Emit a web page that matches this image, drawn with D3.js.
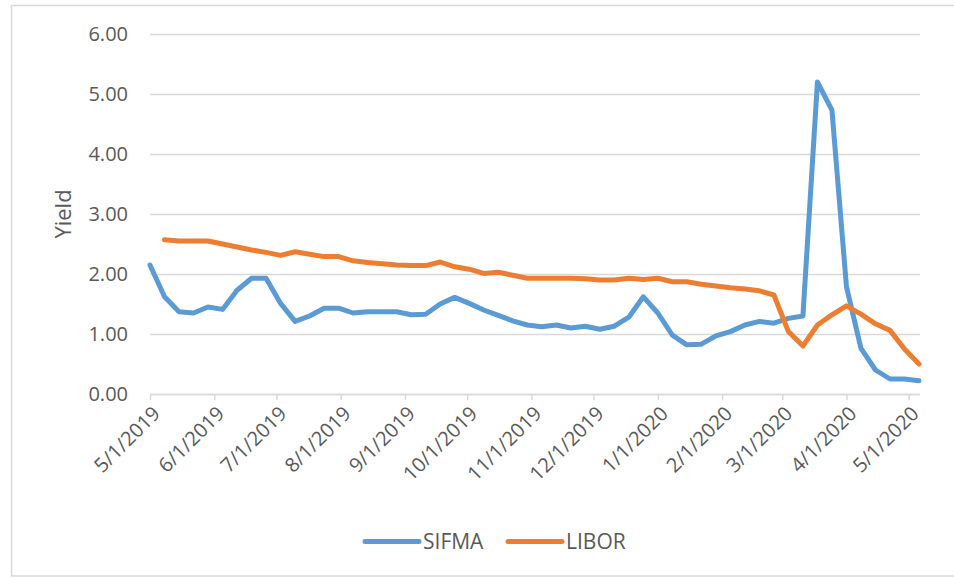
<!DOCTYPE html>
<html>
<head>
<meta charset="utf-8">
<script src="https://cdn.jsdelivr.net/npm/d3@7"></script>
<style>
  html, body { margin: 0; padding: 0; background: #ffffff; }
  svg { display: block; }
  text { font-family: "Open Sans", sans-serif; fill: #595959; }
</style>
</head>
<body>
<svg id="chart" width="954" height="577"></svg>
<script>
// ---- data ----
const dates = [
  "2019-05-01","2019-05-08","2019-05-15","2019-05-22","2019-05-29",
  "2019-06-05","2019-06-12","2019-06-19","2019-06-26",
  "2019-07-03","2019-07-10","2019-07-17","2019-07-24","2019-07-31",
  "2019-08-07","2019-08-14","2019-08-21","2019-08-28",
  "2019-09-04","2019-09-11","2019-09-18","2019-09-25",
  "2019-10-02","2019-10-09","2019-10-16","2019-10-23","2019-10-30",
  "2019-11-06","2019-11-13","2019-11-20","2019-11-27",
  "2019-12-04","2019-12-11","2019-12-18","2019-12-25",
  "2020-01-01","2020-01-08","2020-01-15","2020-01-22","2020-01-29",
  "2020-02-05","2020-02-12","2020-02-19","2020-02-26",
  "2020-03-04","2020-03-11","2020-03-18","2020-03-25",
  "2020-04-01","2020-04-08","2020-04-15","2020-04-22","2020-04-29",
  "2020-05-06"
];
const sifma = [
  2.15,1.62,1.37,1.35,1.45,
  1.41,1.73,1.93,1.93,
  1.51,1.21,1.30,1.43,1.43,
  1.35,1.37,1.37,1.37,
  1.32,1.33,1.50,1.61,
  1.51,1.40,1.31,1.22,1.15,
  1.12,1.15,1.10,1.13,
  1.08,1.13,1.28,1.62,
  1.35,0.98,0.82,0.83,0.97,
  1.04,1.15,1.21,1.18,
  1.26,1.30,5.20,4.73,
  1.79,0.76,0.40,0.25,0.25,
  0.22
];
const libor = [
  null,2.57,2.55,2.55,2.55,
  2.50,2.45,2.40,2.36,
  2.31,2.37,2.33,2.29,2.29,
  2.22,2.19,2.17,2.15,
  2.14,2.14,2.20,2.12,
  2.08,2.01,2.03,1.98,1.93,
  1.93,1.93,1.93,1.92,
  1.90,1.90,1.93,1.91,
  1.93,1.87,1.87,1.83,1.80,
  1.77,1.75,1.72,1.65,
  1.04,0.80,1.15,1.32,
  1.47,1.33,1.17,1.06,0.75,
  0.50
];
const xTickLabels = [
  "5/1/2019","6/1/2019","7/1/2019","8/1/2019","9/1/2019","10/1/2019",
  "11/1/2019","12/1/2019","1/1/2020","2/1/2020","3/1/2020","4/1/2020","5/1/2020"
];
const yTicks = [0, 1, 2, 3, 4, 5, 6];
const seriesNames = ["SIFMA", "LIBOR"];
const seriesColors = ["#5b9bd5", "#ed7d31"];

// ---- drawing ----
const parse = d3.timeParse("%Y-%m-%d");
const parseTick = d3.timeParse("%m/%d/%Y");
const dateObjs = dates.map(parse);
const tickDates = xTickLabels.map(parseTick);

const svg = d3.select("#chart");

// outer chart border
svg.append("rect")
  .attr("x", 11.5).attr("y", 5.5)
  .attr("width", 960).attr("height", 570.5)
  .attr("fill", "#ffffff")
  .attr("stroke", "#d9d9d9").attr("stroke-width", 1.5);

const plotLeft = 150, plotRight = 920, plotTop = 34, plotBottom = 394;

const x = d3.scaleTime()
  .domain([dateObjs[0], dateObjs[dateObjs.length - 1]])
  .range([plotLeft, 919]);
const y = d3.scaleLinear().domain([0, 6]).range([plotBottom, plotTop]);

// gridlines + y labels
const yAxis = d3.axisLeft(y)
  .tickValues(yTicks)
  .tickFormat(d3.format(".2f"))
  .tickSize(-(plotRight - plotLeft))
  .tickPadding(22);
const gy = svg.append("g")
  .attr("transform", `translate(${plotLeft},0)`)
  .call(yAxis);
gy.select(".domain").remove();
gy.selectAll(".tick line").attr("stroke", "#d9d9d9").attr("stroke-width", 1.5);
gy.selectAll(".tick text")
  .attr("font-size", 20)
  .style("font-family", "'Open Sans', sans-serif")
  .attr("fill", "#595959");

// x axis
const xAxis = d3.axisBottom(x)
  .tickValues(tickDates)
  .tickFormat((d, i) => xTickLabels[i])
  .tickSizeOuter(0)
  .tickSize(6);
const gx = svg.append("g")
  .attr("transform", `translate(0,${plotBottom})`)
  .call(xAxis);
gx.select(".domain")
  .attr("d", `M${plotLeft},0.5H${plotRight}`)
  .attr("stroke", "#d9d9d9").attr("stroke-width", 1.5);
gx.selectAll(".tick line").attr("stroke", "#d9d9d9").attr("stroke-width", 1.5);
gx.selectAll(".tick text")
  .attr("font-size", 20)
  .style("font-family", "'Open Sans', sans-serif")
  .attr("fill", "#595959")
  .attr("text-anchor", "end")
  .attr("x", 0).attr("y", 0)
  .attr("dy", "0.35em")
  .attr("transform", "translate(6,16) rotate(-45)");

// y title
svg.append("text")
  .attr("transform", "translate(63,214) rotate(-90)")
  .attr("text-anchor", "middle")
  .attr("dy", "0.35em")
  .attr("font-size", 22)
  .text("Yield");

// lines
const series = [sifma, libor];
series.forEach((vals, si) => {
  const line = d3.line()
    .defined(d => d.v !== null)
    .x(d => x(d.date))
    .y(d => y(d.v));
  svg.append("path")
    .datum(vals.map((v, i) => ({ date: dateObjs[i], v })))
    .attr("fill", "none")
    .attr("stroke", seriesColors[si])
    .attr("stroke-width", 5)
    .attr("stroke-linejoin", "round")
    .attr("stroke-linecap", "round")
    .attr("d", line);
});

// legend
const legendItems = [
  { name: seriesNames[0], color: seriesColors[0], x0: 365 },
  { name: seriesNames[1], color: seriesColors[1], x0: 508 }
];
legendItems.forEach(it => {
  const g = svg.append("g").attr("transform", `translate(${it.x0},541.5)`);
  g.append("line")
    .attr("x1", 0).attr("x2", 54)
    .attr("y1", 0).attr("y2", 0)
    .attr("stroke", it.color).attr("stroke-width", 5)
    .attr("stroke-linecap", "round");
  g.append("text")
    .attr("x", 58).attr("dy", "0.35em")
    .attr("font-size", 21)
    .text(it.name);
});
</script>
</body>
</html>
